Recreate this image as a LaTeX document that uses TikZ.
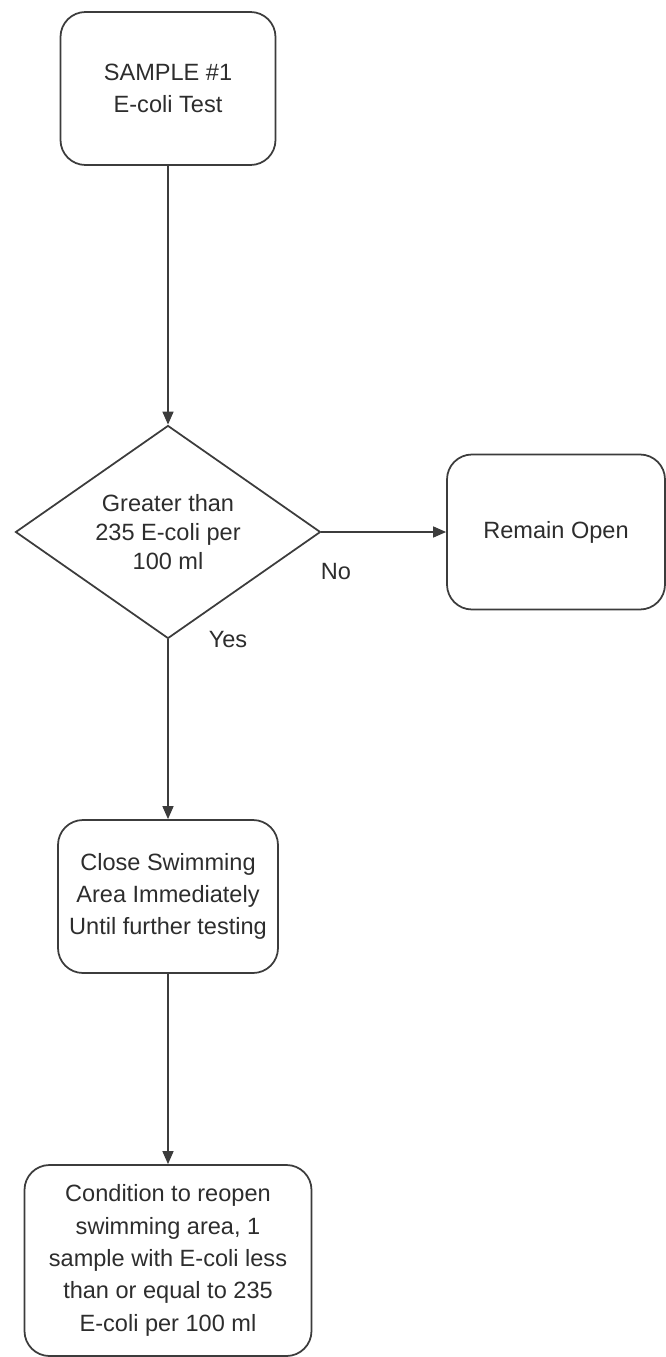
\documentclass[tikz,border=0pt]{standalone}
\usepackage{fontspec}
\setmainfont{Liberation Sans}
\usetikzlibrary{arrows.meta,positioning,shapes.geometric}
\definecolor{flowline}{RGB}{60,60,60}
\definecolor{flowtext}{RGB}{45,45,45}

\begin{document}
\begin{tikzpicture}[
    box/.style={draw=flowline,rounded corners=0.5cm,line width=1pt,align=center,text=flowtext,font=\fontsize{13.4}{18.4}\selectfont,inner sep=0pt},
    decision/.style={draw=flowline,diamond,aspect=1.43,line width=1pt,align=center,text=flowtext,font=\fontsize{13.4}{16.5}\selectfont,inner sep=0pt},
    flow/.style={-{Triangle[length=0.26cm,width=0.22cm]},draw=flowline,line width=0.8pt},
    lbl/.style={text=flowtext,font=\fontsize{13.4}{16}\selectfont},
]
\useasboundingbox (0,0) rectangle (13.32,-27.14);
% First sample
\node[box,minimum width=4.3cm,minimum height=3.06cm] (sample) at (3.36,-1.77) {SAMPLE \#1\\E-coli Test};

% Decision and the No branch
\node[decision,minimum width=6.1cm,minimum height=4.26cm] (limit) at (3.36,-10.64) {Greater than\\235 E-coli per\\100 ml};
\node[box,minimum width=4.36cm,minimum height=3.1cm] (open) at (11.12,-10.64) {Remain Open};
\draw[flow] (sample) -- (limit);
\draw[flow] (limit) -- (open);
\node[lbl] (no) at (6.72,-11.44) {No};
\node[lbl] (yes) at (4.56,-12.8) {Yes};

% Yes branch
\node[box,minimum width=4.4cm,minimum height=3.06cm] (close) at (3.36,-17.93) {Close Swimming\\Area Immediately\\Until further testing};
\node[box,minimum width=5.74cm,minimum height=3.82cm] (reopen) at (3.36,-25.21) {Condition to reopen\\swimming area, 1\\sample with E-coli less\\than or equal to 235\\E-coli per 100 ml};
\draw[flow] (limit) -- (close);
\draw[flow] (close) -- (reopen);
\end{tikzpicture}
\end{document}
